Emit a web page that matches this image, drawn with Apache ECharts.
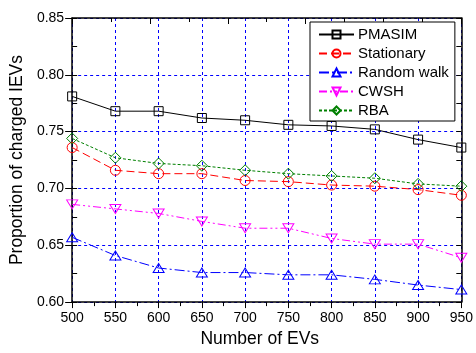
<!DOCTYPE html>
<html>
<head>
<meta charset="utf-8">
<script src="https://cdn.jsdelivr.net/npm/echarts@6/dist/echarts.min.js"></script>
<style>
  html, body { margin: 0; padding: 0; background: #fff; }
  #chart { width: 476px; height: 353px; }
</style>
</head>
<body>
<div id="chart"></div>
<script>
// Number of EVs (x axis)
const evCounts = [500, 550, 600, 650, 700, 750, 800, 850, 900, 950];

// Proportion of charged IEVs for each scheme
const pmasim     = [0.781, 0.768, 0.768, 0.762, 0.760, 0.756, 0.755, 0.752, 0.743, 0.736];
const stationary = [0.736, 0.716, 0.713, 0.713, 0.707, 0.706, 0.703, 0.702, 0.699, 0.694];
const randomWalk = [0.657, 0.641, 0.630, 0.626, 0.626, 0.624, 0.624, 0.620, 0.615, 0.611];
const cwsh       = [0.686, 0.682, 0.678, 0.671, 0.665, 0.665, 0.656, 0.651, 0.651, 0.639];
const rba        = [0.744, 0.727, 0.722, 0.720, 0.716, 0.713, 0.711, 0.709, 0.704, 0.702];

const seriesNames = ['PMASIM', 'Stationary', 'Random walk', 'CWSH', 'RBA'];
const seriesValues = [pmasim, stationary, randomWalk, cwsh, rba];

const styles = [
  { color: '#000000', dash: 'solid', symbol: 'rect', size: 9 },
  { color: '#ff0000', dash: [8, 4], symbol: 'circle', size: 10 },
  { color: '#0000ff', dash: [10, 3, 2, 3], symbol: 'path://M5,0 L10,9 L0,9 Z', size: [11, 10] },
  { color: '#ff00ff', dash: [8, 3, 2, 3, 2, 3], symbol: 'path://M0,0 L10,0 L5,9 Z', size: [11, 10] },
  { color: '#008000', dash: [3, 2], symbol: 'diamond', size: 11 }
];

const FONT = 'Arial, "Liberation Sans", sans-serif';

const series = seriesNames.map((name, i) => ({
  name: name,
  type: 'line',
  xAxisIndex: 0,
  yAxisIndex: 0,
  data: evCounts.map((x, k) => [x, seriesValues[i][k]]),
  symbol: styles[i].symbol,
  symbolSize: styles[i].size,
  symbolKeepAspect: true,
  clip: false,
  lineStyle: { color: styles[i].color, width: 1, type: styles[i].dash },
  itemStyle: { color: 'transparent', borderColor: styles[i].color, borderWidth: 1 },
  emphasis: { disabled: true },
  animation: false
}));

const chart = echarts.init(document.getElementById('chart'), null, { renderer: 'canvas' });

chart.setOption({
  backgroundColor: '#ffffff',
  animation: false,
  grid: { left: 70, right: 14, top: 18, bottom: 46 },
  legend: {
    orient: 'vertical',
    left: 310,
    top: 22,
    padding: [5, 6, 3, 8],
    backgroundColor: '#ffffff',
    borderColor: '#000000',
    borderWidth: 1,
    borderRadius: 0,
    itemWidth: 35,
    itemHeight: 10,
    itemGap: 4,
    textStyle: { fontFamily: FONT, fontSize: 15, color: '#000', lineHeight: 15, padding: [0, 0, 0, -1] },
    data: seriesNames
  },
  xAxis: [
    {
      type: 'value',
      min: 500,
      max: 950,
      interval: 50,
      position: 'bottom',
      name: 'Number of EVs',
      nameLocation: 'middle',
      nameGap: 22,
      nameTextStyle: { fontFamily: FONT, fontSize: 17.5, color: '#000', padding: [0, 14, 0, 0] },
      axisLine: { show: true, lineStyle: { color: '#000', width: 1.5 } },
      axisTick: { show: true, inside: false, length: 6, lineStyle: { color: '#000', width: 1 } },
      minorTick: { show: true, splitNumber: 2, length: 4, lineStyle: { color: '#000', width: 1 } },
      axisLabel: { fontFamily: FONT, fontSize: 14, color: '#000', margin: 9 },
      splitLine: { show: true, lineStyle: { color: '#0000ff', width: 1, type: [3, 3] } }
    },
    {
      type: 'value',
      min: 0,
      max: 10,
      interval: 2,
      position: 'top',
      axisLine: { show: true, lineStyle: { color: '#000', width: 1.5 } },
      axisTick: { show: true, inside: true, length: 6, lineStyle: { color: '#000', width: 1 } },
      minorTick: { show: true, splitNumber: 2, length: 4, lineStyle: { color: '#000', width: 1 } },
      axisLabel: { show: false },
      splitLine: { show: false }
    }
  ],
  yAxis: [
    {
      type: 'value',
      min: 0.6,
      max: 0.85,
      interval: 0.05,
      position: 'left',
      name: 'Proportion of charged IEVs',
      nameLocation: 'middle',
      nameGap: 38,
      nameRotate: 90,
      nameTextStyle: { fontFamily: FONT, fontSize: 17.5, color: '#000' },
      axisLine: { show: true, lineStyle: { color: '#000', width: 1.5 } },
      axisTick: { show: true, inside: false, length: 7, lineStyle: { color: '#000', width: 1 } },
      axisLabel: { fontFamily: FONT, fontSize: 14, color: '#000', margin: 8, formatter: v => v.toFixed(2) },
      splitLine: { show: true, lineStyle: { color: '#0000ff', width: 1, type: [3, 3] } }
    },
    {
      type: 'value',
      min: 0.6,
      max: 0.85,
      interval: 0.025,
      position: 'right',
      axisLine: { show: true, onZero: false, lineStyle: { color: '#000', width: 1.5 } },
      axisTick: { show: true, inside: true, length: 5, lineStyle: { color: '#000', width: 1 } },
      axisLabel: { show: false },
      splitLine: { show: false }
    },
    {
      type: 'value',
      min: 0.6,
      max: 0.85,
      interval: 0.025,
      position: 'left',
      axisLine: { show: false },
      axisTick: { show: true, inside: true, length: 5, lineStyle: { color: '#000', width: 1 } },
      axisLabel: { show: false },
      splitLine: { show: false }
    }
  ],
  series: series
});
</script>
</body>
</html>
